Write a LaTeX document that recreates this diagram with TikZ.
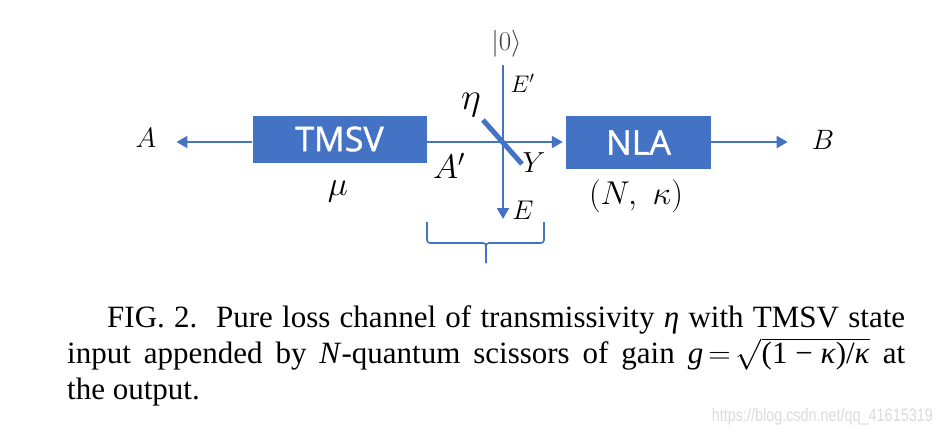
\RequirePackage{fix-cm}
\documentclass[tikz,border=0pt]{standalone}
\usepackage{fontspec}
\usepackage{tikz}
\usetikzlibrary{arrows.meta,calc,positioning}
\newfontfamily\boxfont[FakeBold=1.2]{Open Sans}
\newfontfamily\capfont{Liberation Serif}
\newfontfamily\wmfont{Liberation Sans}
\definecolor{qsblue}{RGB}{68,114,196}
\newcommand{\lblsize}[1]{\fontsize{#1}{#1}\selectfont}

\begin{document}
\begin{tikzpicture}[x=1pt,y=-1pt,
    box/.style={fill=qsblue,text=white,font=\boxfont\lblsize{34},inner sep=0pt},
    lab/.style={font=\lblsize{#1},inner sep=0pt},
    flow/.style={draw=qsblue,line width=2pt,-{Triangle[length=11pt,width=12pt]}},
    splitter/.style={draw=qsblue,line width=5pt},
    brace/.style={draw=qsblue,line width=1.6pt,rounded corners=3pt},
    capt/.style={font=\capfont\fontsize{31}{36}\selectfont,text width=838pt,align=justify,inner sep=0pt},
    wm/.style={font=\wmfont\lblsize{18},text=black!14,inner sep=0pt}]
  \useasboundingbox (0,0) rectangle (942,434);
  \node[box,minimum width=174pt,minimum height=47pt] (tmsv) at (339.5,139) {TMSV};
  \node[box,minimum width=145pt,minimum height=53pt] (nla) at (638.5,142.5) {NLA};
  \coordinate (bs) at (503,142);
  \coordinate (etop) at (503,65);
  \coordinate (ebot) at (503,219);
  \node[lab=28] (a) at (146,138) {$A$};
  \node[lab=28] (b) at (823,140) {$B$};
  \node[lab=34] (mu) at (338,191) {$\mu$};
  \node[lab=33] (nk) at (636,196.5) {$(N,\ \kappa)$};
  \node[lab=34] (aprime) at (449,166) {$A'$};
  \node[lab=29] (y) at (534,163) {$Y$};
  \node[lab=27] (e) at (523,210) {$E$};
  \node[lab=24] (eprime) at (522.5,83.5) {$E'$};
  \node[lab=38] (eta) at (471,105) {$\eta$};
  \node[lab=27,text=black!75] (zero) at (506.5,43.5) {$|0\rangle$};
  \draw[flow,shorten >=20pt] (tmsv.west |- bs) -- (a.east |- bs);
  \draw[flow,shorten >=3pt] (tmsv.east |- bs) -- (nla.west |- bs);
  \draw[flow,shorten >=24pt] (nla.east |- bs) -- (b.west |- bs);
  \draw[flow] (etop) -- (ebot);
  \draw[splitter] ([shift={(-20,-22)}]bs) -- ([shift={(19,22)}]bs);
  \draw[brace] (427,222) -- (427,243) -- (486,243) -- (486,263);
  \draw[brace] (544,222) -- (544,243) -- (486,243) -- (486,263);
  \node[capt,anchor=base west] (caption) at (67,327) {\hspace*{40pt}FIG. 2.\ \ Pure loss channel of transmissivity \textit{η\/} with TMSV state\linebreak input appended by \textit{N}-quantum scissors of gain \textit{g}\,$=$\,$\sqrt{\mbox{(1 − \textit{κ})/\textit{κ}\/}}$ at\linebreak the output.};
  \node[wm,anchor=base east] (mark) at (933,421) {\scalebox{0.8}[1]{https://blog.csdn.net/qq\_41615319}};
\end{tikzpicture}
\end{document}
